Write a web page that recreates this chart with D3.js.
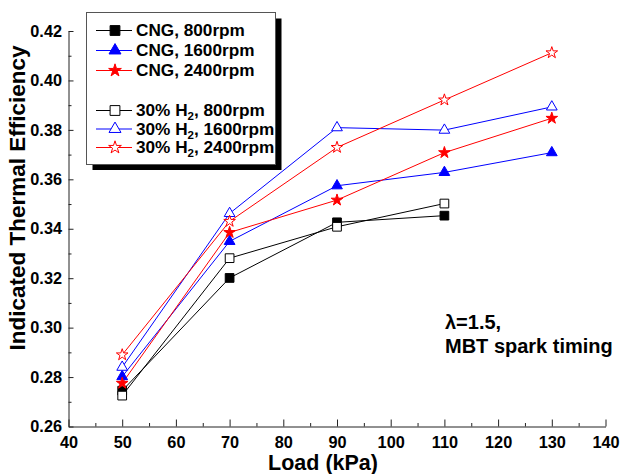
<!DOCTYPE html>
<html>
<head>
<meta charset="utf-8">
<script src="https://cdn.jsdelivr.net/npm/d3@7"></script>
<style>
  html, body { margin: 0; padding: 0; background: #fff; }
  svg { display: block; font-family: "Liberation Sans", Arial, sans-serif; font-weight: bold; }
</style>
</head>
<body>
<svg id="chart" width="624" height="474"></svg>
<script>
// ---- data ----
const loads = [50, 70, 90, 110, 130];
const cng800  = [0.2745, 0.3201, 0.3426, 0.3453];
const cng1600 = [0.2802, 0.3349, 0.3574, 0.3628, 0.3708];
const cng2400 = [0.2775, 0.3385, 0.3516, 0.3708, 0.3847];
const h2800   = [0.2725, 0.3281, 0.3408, 0.3502];
const h21600  = [0.2840, 0.3462, 0.3809, 0.3799, 0.3893];
const h22400  = [0.2890, 0.3430, 0.3729, 0.3921, 0.4112];
const xTicks = [40, 50, 60, 70, 80, 90, 100, 110, 120, 130, 140];
const xMinor = [45, 55, 65, 75, 85, 95, 105, 115, 125, 135];
const yTicks = [0.26, 0.28, 0.30, 0.32, 0.34, 0.36, 0.38, 0.40, 0.42];
const yMinor = [0.27, 0.29, 0.31, 0.33, 0.35, 0.37, 0.39, 0.41];
const legendMain = ["CNG, 800rpm", "CNG, 1600rpm", "CNG, 2400rpm", "30% H", "30% H", "30% H"];
const legendRest = ["", "", "", ", 800rpm", ", 1600rpm", ", 2400rpm"];

const series = [
  { values: cng800,  color: "#000000", shape: "square",   filled: true  },
  { values: cng1600, color: "#0000ff", shape: "triangle", filled: true  },
  { values: cng2400, color: "#ff0000", shape: "star",     filled: true  },
  { values: h2800,   color: "#000000", shape: "square",   filled: false },
  { values: h21600,  color: "#0000ff", shape: "triangle", filled: false },
  { values: h22400,  color: "#ff0000", shape: "star",     filled: false }
];

const svg = d3.select("#chart");
const x = d3.scaleLinear().domain([40, 140]).range([68.5, 605.5]);
const y = d3.scaleLinear().domain([0.26, 0.42]).range([426.5, 31]);

const symType = { square: d3.symbolSquare, triangle: d3.symbolTriangle, star: d3.symbolStar };
const symSize = { square: 76, triangle: 50, star: 42 };
const legSize = { square: 96, triangle: 62, star: 50 };

// ---- axes ----
svg.append("g").attr("transform", "translate(0,426.5)")
  .call(d3.axisBottom(x).tickValues(xTicks).tickSize(-7).tickPadding(10).tickSizeOuter(0).tickFormat(d3.format("d")));
svg.append("g").attr("transform", "translate(0,426.5)")
  .call(d3.axisBottom(x).tickValues(xMinor).tickSize(-3.5).tickSizeOuter(0).tickFormat(""))
  .select(".domain").remove();
svg.append("g").attr("transform", "translate(68.5,0)")
  .call(d3.axisLeft(y).tickValues(yTicks).tickSize(-5).tickPadding(6.5).tickSizeOuter(0).tickFormat(d3.format(".2f")));
svg.append("g").attr("transform", "translate(68.5,0)")
  .call(d3.axisLeft(y).tickValues(yMinor).tickSize(-3).tickSizeOuter(0).tickFormat(""))
  .select(".domain").remove();
svg.selectAll(".tick text").attr("font-size", 16.3).attr("font-weight", "bold")
  .attr("font-family", "Liberation Sans, Arial, sans-serif").attr("fill", "#000");
svg.selectAll(".domain, .tick line").attr("stroke", "#222");

// axis titles
svg.append("text").attr("x", 323).attr("y", 470).attr("text-anchor", "middle")
  .attr("font-size", 21.5).text("Load (kPa)");
svg.append("text").attr("transform", "translate(25,198) rotate(-90)").attr("text-anchor", "middle")
  .attr("font-size", 22.5).text("Indicated Thermal Efficiency");

// ---- lines & markers ----
const line = d3.line().x((d, i) => x(loads[i])).y(d => y(d));
series.forEach(s => {
  svg.append("path").attr("d", line(s.values)).attr("fill", "none")
    .attr("stroke", s.color).attr("stroke-width", 1);
});
series.forEach(s => {
  svg.selectAll(null).data(s.values).enter().append("path")
    .attr("transform", (d, i) => `translate(${x(loads[i])},${y(d)})`)
    .attr("d", d3.symbol().type(symType[s.shape]).size(symSize[s.shape]))
    .attr("fill", s.filled ? s.color : "#fff")
    .attr("stroke", s.color).attr("stroke-width", 1);
});

// ---- legend ----
const lg = svg.append("g");
lg.append("rect").attr("x", 92.5).attr("y", 18.5).attr("width", 189).attr("height", 151.5).attr("fill", "#000");
lg.append("rect").attr("x", 86.5).attr("y", 12.5).attr("width", 189).attr("height", 152).attr("fill", "#fff")
  .attr("stroke", "#555").attr("stroke-width", 1);
const baselines = [36, 56, 76, 116, 134.5, 153];
series.forEach((s, i) => {
  const by = baselines[i], my = by - 5.5;
  lg.append("line").attr("x1", 96).attr("x2", 132).attr("y1", my).attr("y2", my)
    .attr("stroke", s.color).attr("stroke-width", 1);
  lg.append("path").attr("transform", `translate(115,${my})`)
    .attr("d", d3.symbol().type(symType[s.shape]).size(legSize[s.shape]))
    .attr("fill", s.filled ? s.color : "#fff").attr("stroke", s.color).attr("stroke-width", 1);
  const t = lg.append("text").attr("x", 136).attr("y", by).attr("font-size", 17.2);
  t.append("tspan").text(legendMain[i]);
  if (legendRest[i]) {
    t.append("tspan").attr("dy", 4).attr("font-size", 11.5).text("2");
    t.append("tspan").attr("dy", -4).text(legendRest[i]);
  }
});

// ---- annotation ----
svg.append("text").attr("x", 445).attr("y", 329).attr("font-size", 20).text("λ=1.5,");
svg.append("text").attr("x", 445).attr("y", 353).attr("font-size", 20).text("MBT spark timing");
</script>
</body>
</html>
